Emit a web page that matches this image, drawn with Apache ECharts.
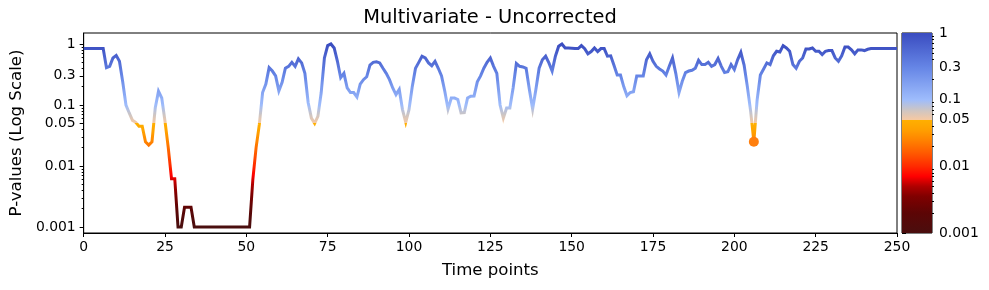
<!DOCTYPE html>
<html><head><meta charset="utf-8">
<script src="https://cdn.jsdelivr.net/npm/echarts@6/dist/echarts.min.js"></script>
<style>html,body{margin:0;padding:0;background:#fff}#c{width:989px;height:290px}</style>
</head><body><div id="c"></div>
<script>
// ---- data ----
const chartTitle = 'Multivariate - Uncorrected';
const xAxisName = 'Time points';
const yAxisName = 'P-values (Log Scale)';
const pValues = [
  0.84,0.84,0.84,0.84,0.84,0.84,0.84,0.41,0.43,0.59,
  0.65,0.52,0.24,0.10,0.074,0.056,0.052,0.045,0.045,0.025,
  0.022,0.025,0.089,0.168,0.13,0.054,0.020,0.0062,0.0062,0.001,
  0.001,0.0021,0.0021,0.0021,0.001,0.001,0.001,0.001,0.001,0.001,
  0.001,0.001,0.001,0.001,0.001,0.001,0.001,0.001,0.001,0.001,
  0.001,0.001,0.006,0.020,0.048,0.16,0.22,0.41,0.36,0.30,
  0.17,0.235,0.40,0.43,0.50,0.43,0.57,0.49,0.33,0.11,
  0.061,0.050,0.065,0.157,0.59,0.94,1.0,0.86,0.52,0.28,
  0.33,0.19,0.16,0.16,0.135,0.22,0.26,0.29,0.45,0.50,
  0.51,0.49,0.40,0.33,0.26,0.19,0.148,0.18,0.084,0.052,
  0.084,0.20,0.40,0.50,0.63,0.59,0.49,0.44,0.52,0.40,
  0.30,0.168,0.086,0.13,0.13,0.123,0.074,0.075,0.13,0.139,
  0.14,0.24,0.30,0.40,0.50,0.59,0.43,0.33,0.10,0.061,
  0.089,0.089,0.19,0.48,0.43,0.42,0.40,0.18,0.086,0.18,
  0.40,0.55,0.63,0.49,0.36,0.63,0.92,1.0,0.86,0.86,
  0.85,0.84,0.84,0.94,0.84,0.69,0.75,0.86,0.75,0.84,
  0.84,0.63,0.64,0.45,0.31,0.31,0.20,0.142,0.16,0.165,
  0.30,0.30,0.30,0.55,0.69,0.52,0.43,0.39,0.36,0.31,
  0.43,0.59,0.33,0.16,0.245,0.34,0.36,0.37,0.40,0.54,
  0.46,0.46,0.50,0.43,0.46,0.58,0.43,0.34,0.35,0.46,
  0.38,0.55,0.73,0.45,0.20,0.08,0.025,0.12,0.31,0.39,
  0.49,0.46,0.64,0.76,0.74,0.94,0.86,0.76,0.46,0.40,
  0.52,0.59,0.83,0.83,0.86,0.76,0.76,0.67,0.76,0.78,
  0.78,0.59,0.52,0.64,0.89,0.89,0.80,0.69,0.80,0.80,
  0.78,0.82,0.84,0.84,0.84,0.84,0.84,0.84,0.84,0.84,
  0.84
];
const markTimes = [206];
const markValues = [0.025];
const xTickStep = 25;
const xRange = [0, 250];
const yRange = [0.000797, 1.514];
const yTickValues = [0.001, 0.01, 0.05, 0.1, 0.3, 1];
const yMinorValues = [0.002,0.003,0.004,0.005,0.006,0.007,0.008,0.009,
  0.02,0.03,0.04,0.06,0.07,0.08,0.09,0.2,0.4,0.5,0.6,0.7,0.8,0.9];
const cbarRange = [0.001, 1];

// ---- colormap (log10 p -> colour) ----
const cmapStops = [
  [-3.0, '#4a0e0e'], [-2.7, '#5c0505'], [-2.45, '#800000'], [-2.3, '#b00000'],
  [-2.15, '#ff0000'], [-2.0, '#ff2a00'], [-1.8, '#ff5a00'], [-1.6, '#ff8400'],
  [-1.45, '#ffa000'], [-1.302, '#ffb000'], [-1.300, '#f6c9a2'], [-1.15, '#cbc5c6'],
  [-1.0, '#9ebcfc'], [-0.52, '#6686e6'], [0.0, '#3a4cc0']
];
function hex2rgb(h){return [parseInt(h.slice(1,3),16),parseInt(h.slice(3,5),16),parseInt(h.slice(5,7),16)];}
function cmap(lv){
  if (lv <= cmapStops[0][0]) return cmapStops[0][1];
  if (lv >= cmapStops[cmapStops.length-1][0]) return cmapStops[cmapStops.length-1][1];
  for (let i=0;i<cmapStops.length-1;i++){
    const a=cmapStops[i], b=cmapStops[i+1];
    if (lv>=a[0] && lv<=b[0]){
      const t=(lv-a[0])/(b[0]-a[0]); const ca=hex2rgb(a[1]), cb=hex2rgb(b[1]);
      return 'rgb('+ca.map((v,k)=>Math.round(v+(cb[k]-v)*t)).join(',')+')';
    }
  }
}
const pieces = [];
for (let i=0;i<360;i++){
  const lo=-3.3+i*0.01, hi=lo+0.01;
  pieces.push({gte: Math.pow(10,lo), lt: Math.pow(10,hi), color: cmap((lo+hi)/2)});
}
const gradStops = cmapStops.map(s=>({offset:(Math.log10(cbarRange[1])-s[0])/(Math.log10(cbarRange[1])-Math.log10(cbarRange[0])), color:s[1]})).sort((a,b)=>a.offset-b.offset);

const FONT = 'DejaVu Sans';
const TICK_FS = 13.9, NAME_FS = 16.6, TITLE_FS = 19.4;
const fmt = v => String(parseFloat(Number(v).toPrecision(3)));
const chart = echarts.init(document.getElementById('c'), null, {renderer:'canvas'});
chart.setOption({
  animation:false,
  backgroundColor:'#fff',
  textStyle:{fontFamily:FONT},
  graphic:[{type:'text', x:490, y:18, style:{text:chartTitle, align:'center', verticalAlign:'middle', font:TITLE_FS+'px "DejaVu Sans"', fill:'#000'}}],
  grid:[
    {left:83, top:33, width:814, height:200, show:true, borderColor:'#000', borderWidth:1, backgroundColor:'transparent'},
    {left:902, top:33, width:30, height:200, show:true, borderColor:'#000', borderWidth:1, backgroundColor:'transparent'}
  ],
  xAxis:[
    {type:'value', gridIndex:0, min:xRange[0], max:xRange[1], interval:xTickStep,
     name:xAxisName, nameLocation:'middle', nameGap:29, nameTextStyle:{fontSize:NAME_FS, color:'#000', fontFamily:FONT},
     axisLine:{show:true, lineStyle:{color:'#000', width:1}}, axisTick:{show:true, inside:false, length:4, lineStyle:{color:'#000'}},
     axisLabel:{fontSize:TICK_FS, color:'#000', margin:7, fontFamily:FONT}, splitLine:{show:false}},
    {type:'value', gridIndex:1, min:0, max:1, show:false}
  ],
  yAxis:[
    {type:'log', logBase:10, gridIndex:0, min:yRange[0], max:yRange[1], position:'left',
     name:yAxisName, nameLocation:'middle', nameGap:57, nameRotate:90, nameTextStyle:{fontSize:NAME_FS, color:'#000', fontFamily:FONT},
     axisLine:{show:true, lineStyle:{color:'#000'}},
     axisTick:{show:true, length:4, customValues:yTickValues, lineStyle:{color:'#000'}},
     axisLabel:{customValues:yTickValues, formatter:fmt, fontSize:TICK_FS, color:'#000', margin:8, fontFamily:FONT},
     splitLine:{show:false}},
    {type:'log', logBase:10, gridIndex:0, min:yRange[0], max:yRange[1], position:'left',
     axisLine:{show:false}, axisTick:{show:true, length:2, customValues:yMinorValues, lineStyle:{color:'#000'}},
     axisLabel:{show:false}, splitLine:{show:false}},
    {type:'log', logBase:10, gridIndex:1, min:cbarRange[0], max:cbarRange[1], position:'right',
     axisLine:{show:false},
     axisTick:{show:true, length:4, customValues:yTickValues, lineStyle:{color:'#000'}},
     axisLabel:{customValues:yTickValues, formatter:fmt, fontSize:TICK_FS, color:'#000', margin:7, fontFamily:FONT},
     splitLine:{show:false}},
    {type:'log', logBase:10, gridIndex:1, min:cbarRange[0], max:cbarRange[1], position:'right',
     axisLine:{show:false}, axisTick:{show:true, length:2, customValues:yMinorValues, lineStyle:{color:'#000'}},
     axisLabel:{show:false}, splitLine:{show:false}}
  ],
  visualMap:[{type:'piecewise', show:false, seriesIndex:0, dimension:1, pieces:pieces, outOfRange:{color:'#3a4cc0'}}],
  series:[
    {type:'line', xAxisIndex:0, yAxisIndex:0, data:pValues.map((p,i)=>[i,p]), showSymbol:false, symbol:'none',
     lineStyle:{width:3, join:'miter'}, z:2},
    {type:'scatter', xAxisIndex:0, yAxisIndex:0, data:markTimes.map((t,i)=>[t,markValues[i]]), symbolSize:10,
     itemStyle:{color:'#ff7f0e', opacity:1}, z:3},
    {type:'custom', xAxisIndex:1, yAxisIndex:2, data:[[0, cbarRange[0], cbarRange[1]]], clip:false, z:1,
     renderItem:function(params, api){
       const p0 = api.coord([0, api.value(1)]);
       const p1 = api.coord([1, api.value(2)]);
       return {type:'rect', shape:{x:p0[0], y:p1[1], width:p1[0]-p0[0], height:p0[1]-p1[1]},
               style:{fill:new echarts.graphic.LinearGradient(0,0,0,1,gradStops)}};
     }}
  ]
});
</script></body></html>
